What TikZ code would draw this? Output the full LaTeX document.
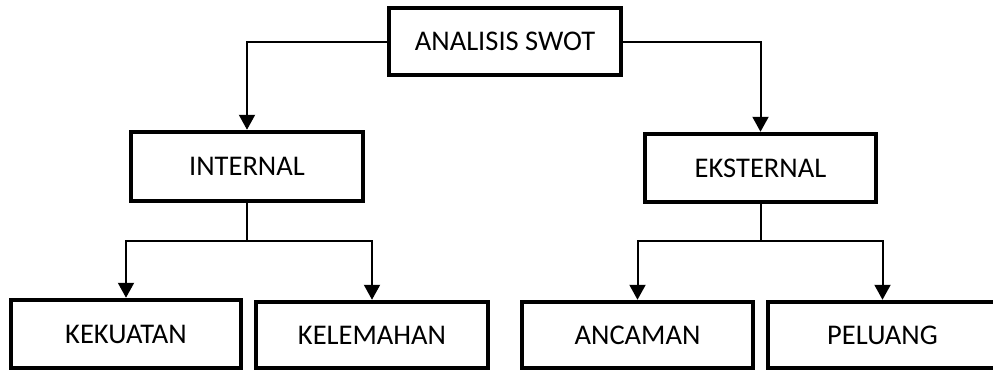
\documentclass[tikz,border=0pt]{standalone}
\usepackage{fontspec}
\setmainfont{Carlito}
\usetikzlibrary{arrows.meta}
\begin{document}
\begin{tikzpicture}[x=1pt,y=-1pt,
  box/.style={draw, line width=4.5pt, minimum height=67pt, inner sep=0pt,
    font=\fontsize{28.5}{34}\selectfont},
  conn/.style={line width=2pt},
  arr/.style={conn, -{Triangle[width=16pt,length=15pt]}}]
\useasboundingbox (0,0) rectangle (993,372);
\fill[white] (0,0) rectangle (993,372);
\node[box, minimum width=232pt, minimum height=67pt] (top) at (505,41.5) {ANALISIS SWOT};
\node[box, minimum width=232pt, minimum height=69pt] (int) at (247,166.5) {INTERNAL};
\node[box, minimum width=231pt, minimum height=68pt] (eks) at (760.5,168) {EKSTERNAL};
\node[box, minimum width=230pt, minimum height=68pt] (kek) at (126,334) {KEKUATAN};
\node[box, minimum width=232pt, minimum height=66pt] (kel) at (372,335) {KELEMAHAN};
\node[box, minimum width=231pt, minimum height=66pt] (anc) at (637.5,335) {ANCAMAN};
\node[box, minimum width=229pt, minimum height=66pt] (pel) at (882.5,335) {PELUANG};
\coordinate (ji) at (247,241);
\coordinate (je) at (760.5,241);
\draw[arr] (top.west) -| (int.north);
\draw[arr] (top.east) -| (eks.north);
\draw[conn] (int.south) -- (ji);
\draw[arr] (ji) -| (kek.north);
\draw[arr] (ji) -| (kel.north);
\draw[conn] (eks.south) -- (je);
\draw[arr] (je) -| (anc.north);
\draw[arr] (je) -| (pel.north);
\end{tikzpicture}
\end{document}
